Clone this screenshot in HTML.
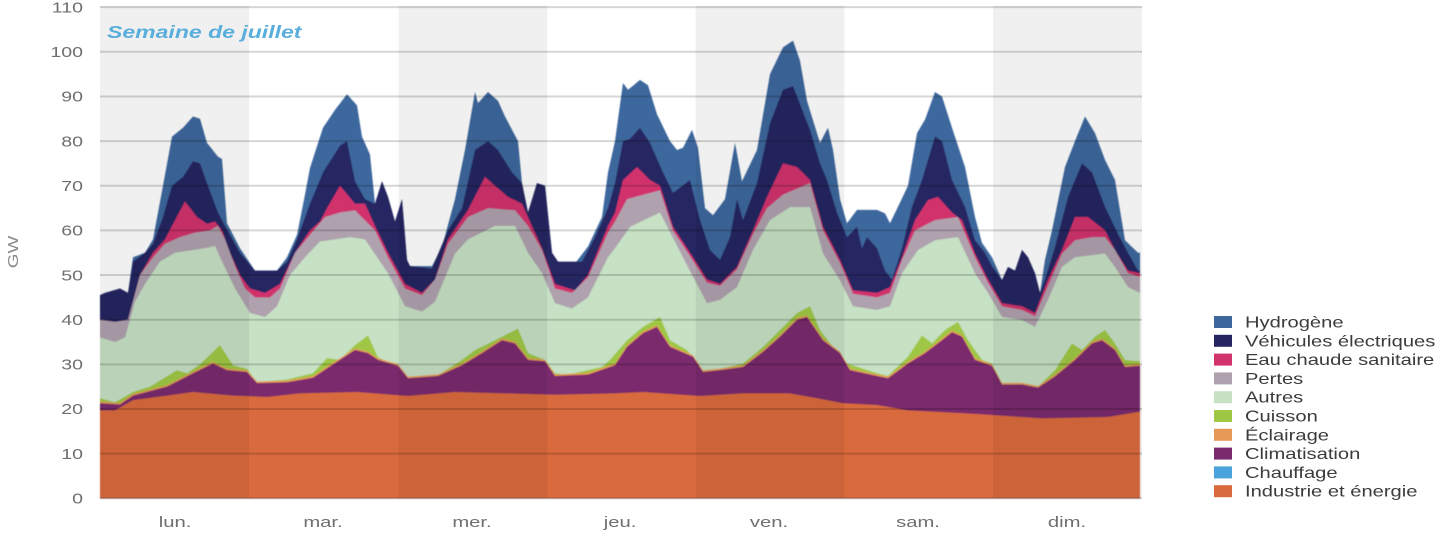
<!DOCTYPE html>
<html><head><meta charset="utf-8"><style>
html,body{margin:0;padding:0;background:#fff;}
body{width:1443px;height:537px;overflow:hidden;}
svg{display:block;}
text{font-family:"Liberation Sans",sans-serif;}
</style></head><body>
<svg width="1443" height="537" viewBox="0 0 1443 537" xmlns="http://www.w3.org/2000/svg">
<defs><filter id="soft" x="-2%" y="-2%" width="104%" height="104%"><feGaussianBlur stdDeviation="0.6"/></filter></defs>
<rect x="0" y="0" width="1443" height="537" fill="#fff"/>
<g filter="url(#soft)">
<g transform="translate(0,498.3) scale(1,-4.465)">
<polygon fill="#3d679d" points="100,0 100,45.5 105,46 120,47 128,46 133,54 145,55 153,58 163,70 172,81 183,83 193,85.5 200,85 207,79.6 218,76.5 222,76 227,61.6 240,56 255,51 277,51 287,54 297,59 305,68 310,74 323,83 335,87 347,90.5 357,88 362,81 370,77 375,66 382,71 388,67.5 395,62 402,67 407,53.4 410,52 432,52 442,56.3 455,67 465,78 475,91 478,88.5 488,91 498,89 505,85.5 518,80 522,70.6 528,64 537,70.6 545,70 552,55 558,53 575,52.6 588,56.4 602,63 608,73 615,80 623,93 628,91.5 640,93.7 648,92.5 657,86 670,80 677,78 683,78.5 692,82.5 698,78.5 705,65 713,63.4 725,67 735,79.6 742,71 757,78 770,95 783,101 793,102.5 800,98 807,89 820,79.6 828,83 833,78 840,67 847,61.6 857,64.6 877,64.6 885,63.8 890,61.6 898,65.3 908,70 917,81.8 925,84.8 935,91 942,90 952,83 965,74.2 975,63 982,57.2 992,54 1002,48.9 1008,51.8 1015,51 1022,55.6 1028,54 1035,50.4 1040,46 1045,53.4 1052,60 1065,74.2 1075,80 1085,85.5 1095,81.8 1105,75.8 1115,71.3 1125,57.8 1138,55 1140,55 1140,0"/>
<polygon fill="#252562" points="100,0 100,45.5 105,46 120,47 128,46 133,53 145,55 153,57 163,63 172,70 183,72 193,75.5 200,75 207,70.6 218,64 225,61 240,55 255,51 277,51 287,53 297,58 310,66 323,73 340,79 347,80 355,71 365,67 375,66 382,71 388,67.5 395,62 402,67 407,53.4 410,52 432,51.5 448,60 462,65 475,78 488,80 498,78 512,73 522,70.6 528,64 537,70.6 545,70 552,55 558,53 582,53 595,58.5 608,65 615,70.6 623,80 630,80.5 640,83 650,79.6 663,73 673,68.4 690,71.3 700,62.3 710,55.6 720,53.4 730,58.5 737,67 743,62.3 757,70.6 770,84 783,91.5 793,92.3 810,82.5 820,75 827,71.3 837,64 847,58.5 857,60.8 862,56 867,58.5 877,56 885,51 892,49 902,56 912,65.3 922,71.3 935,81 942,80 952,71.3 965,65.3 975,57.8 985,55 992,52 1002,48.9 1008,51.8 1015,51 1022,55.6 1028,54 1035,50.4 1040,46 1045,49 1055,56.3 1068,67.5 1082,75 1092,73 1105,65.3 1118,59.2 1128,55 1138,51 1140,51 1140,0"/>
<polygon fill="#d1336c" points="100,0 100,40 115,39.5 128,40 140,50 153,55 165,58 172,61 185,66.5 197,63 207,61.5 215,62 222,60 230,55 240,50 250,47 265,46 280,48 295,55 310,60 320,62 327,65 340,70 355,66 365,66 375,61 388,55 405,48 422,46 435,49 448,58 468,64.6 485,72 495,70 508,67.5 522,66 542,56 555,48 575,46.6 588,50 608,61 615,64 623,71.3 637,74.2 650,71.3 660,70 673,60.8 690,55 707,49 720,48 737,51.8 753,60 767,67.5 783,75 797,74.2 810,71.3 823,60.8 840,53.4 853,46.6 877,46 890,47.3 902,54 915,62.3 928,66.8 938,67.5 952,64 962,62.3 975,54.8 988,49 1002,43.7 1022,43 1035,41.5 1048,49 1062,55.6 1075,63 1088,63 1105,60 1115,55.6 1128,51 1140,50.4 1140,0"/>
<polygon fill="#afa1ae" points="100,0 100,40 115,39.5 128,40 140,50 153,54 165,57 180,58.5 195,59.5 210,60 218,61 225,58 235,52 245,47 255,45 270,45 280,47 295,55 310,59 325,63 340,64 355,64.5 375,60 388,54 405,47 422,45.5 435,49 448,57 468,63 488,65 515,64.5 528,61 542,55.6 555,47 572,46 588,49.5 608,59.5 615,62 627,67 660,69 673,60 690,54.3 707,48.3 720,47.6 737,51.3 753,59.2 767,65 783,68 810,70.6 823,60 840,52.7 853,45.8 877,45 890,46 902,53.4 915,60 935,62.3 958,63 975,54 988,48.3 1002,43 1022,42.2 1035,40.8 1048,47.6 1062,54.8 1075,57.8 1092,58.5 1105,58.5 1115,55.6 1128,50.4 1140,49.6 1140,0"/>
<polygon fill="#c6e1c4" points="100,0 100,36 115,35 125,36 135,44 145,48 160,53 175,55 190,55.5 205,56 215,56.5 222,53 235,47 250,41.5 265,40.6 277,43 290,50 305,54 320,57.5 335,58 350,58.5 365,58 388,50.4 405,43 422,41.8 435,44 455,54.8 468,58 495,61 515,61 528,55 542,50.4 555,43.7 572,42.5 588,45 608,54 615,56 630,60.8 660,64 677,56.6 693,49.6 707,43.7 720,44.4 737,47.3 753,55.6 770,62.3 790,65.2 810,65.2 823,54.8 840,48.8 853,43 877,42.2 890,43 902,50.4 918,55.6 935,57.8 958,58.5 975,50.4 988,46 1002,40.6 1022,39.9 1035,38.4 1048,44.4 1062,51.8 1075,54 1105,54.8 1115,51.8 1128,47.3 1140,46 1140,0"/>
<polygon fill="#9fc744" points="100,0 100,22.4 115,21.5 133,23.8 150,25 177,28.7 187,28 200,30 220,34.3 233,29.8 247,29 257,26 287,26.6 313,28 327,31.4 340,31 355,34.3 368,36.5 378,31.6 398,29.4 408,26.9 438,27.6 462,31 475,33.2 495,35.4 518,38 528,32.5 545,31 555,28 568,27.7 602,29.4 610,31 627,35.4 643,38.4 660,40.6 670,35.4 687,33.2 703,28.7 720,29 743,30.2 763,33.9 780,37.7 797,41.5 810,43 820,37.7 833,33.9 847,30.2 877,28 888,27.4 908,31.7 922,36.5 932,34.7 945,37.7 958,39.5 968,35.4 982,31 992,30.2 1002,25.8 1022,25.5 1038,25 1055,28.7 1072,34.7 1082,33.2 1095,36.2 1105,37.7 1115,34.7 1125,31 1140,30.7 1140,0"/>
<g transform="translate(0,0.35)">
<polygon fill="#e79a55" points="100,0 100,21.3 120,21 133,23 167,25 193,28 213,30.2 227,28.7 247,28.3 257,25.8 287,26 313,27 333,30 355,33.2 368,32.5 378,31 398,29.7 408,26.9 438,27.4 462,29.8 482,32.5 502,35.4 515,34.7 528,31 545,30.7 555,27.4 588,27.7 615,29.8 627,33.9 643,37 657,38.4 670,33.9 693,31.7 703,28.3 720,28.7 743,29.4 763,32.8 780,36.2 797,40 807,40.6 823,35.4 840,32.5 850,28.7 877,27.4 888,26.9 908,30.2 925,32.5 942,35.4 952,37.2 962,36.2 975,31 992,29.7 1002,25.5 1022,25.5 1038,24.8 1055,27.3 1075,31 1092,34.7 1102,35.4 1115,33.2 1125,29.4 1140,29.7 1140,0"/>
</g>
<polygon fill="#7a2b6d" points="100,0 100,21.3 120,21 133,23 167,25 193,28 213,30.2 227,28.7 247,28.3 257,25.8 287,26 313,27 333,30 355,33.2 368,32.5 378,31 398,29.7 408,26.9 438,27.4 462,29.8 482,32.5 502,35.4 515,34.7 528,31 545,30.7 555,27.4 588,27.7 615,29.8 627,33.9 643,37 657,38.4 670,33.9 693,31.7 703,28.3 720,28.7 743,29.4 763,32.8 780,36.2 797,40 807,40.6 823,35.4 840,32.5 850,28.7 877,27.4 888,26.9 908,30.2 925,32.5 942,35.4 952,37.2 962,36.2 975,31 992,29.7 1002,25.5 1022,25.5 1038,24.8 1055,27.3 1075,31 1092,34.7 1102,35.4 1115,33.2 1125,29.4 1140,29.7 1140,0"/>
<polygon fill="#d96a3d" points="100,0 100,19.7 115,19.7 133,22 167,23 193,23.8 233,23 267,22.7 300,23.5 357,23.8 408,22.9 455,23.8 505,23.5 555,23.2 615,23.5 643,23.8 700,22.9 743,23.5 790,23.5 817,22.4 843,21.3 877,20.9 908,19.7 975,18.9 1042,17.9 1108,18.2 1140,19.4 1140,0"/>
</g>
</g>
<!-- day bands -->
<g fill="#000" fill-opacity="0.06">
<rect x="100" y="6" width="149" height="492.3"/>
<rect x="398.6" y="6" width="148.6" height="492.3"/>
<rect x="695.7" y="6" width="148.6" height="492.3"/>
<rect x="993" y="6" width="149" height="492.3"/>
</g>
<!-- gridlines -->
<g stroke="#000" stroke-opacity="0.16" stroke-width="2">
<line x1="100" x2="1142" y1="498.3" y2="498.3"/>
<line x1="100" x2="1142" y1="453.65" y2="453.65"/>
<line x1="100" x2="1142" y1="409" y2="409"/>
<line x1="100" x2="1142" y1="364.35" y2="364.35"/>
<line x1="100" x2="1142" y1="319.7" y2="319.7"/>
<line x1="100" x2="1142" y1="275.05" y2="275.05"/>
<line x1="100" x2="1142" y1="230.4" y2="230.4"/>
<line x1="100" x2="1142" y1="185.75" y2="185.75"/>
<line x1="100" x2="1142" y1="141.1" y2="141.1"/>
<line x1="100" x2="1142" y1="96.45" y2="96.45"/>
<line x1="100" x2="1142" y1="51.8" y2="51.8"/>
<line x1="100" x2="1142" y1="7.15" y2="7.15"/>
</g>
<!-- y tick labels -->
<g fill="#6f6f6f" font-size="14.5" text-anchor="end">
<text transform="translate(83,503.5) scale(1.35,1)">0</text>
<text transform="translate(83,458.9) scale(1.35,1)">10</text>
<text transform="translate(83,414.2) scale(1.35,1)">20</text>
<text transform="translate(83,369.6) scale(1.35,1)">30</text>
<text transform="translate(83,324.9) scale(1.35,1)">40</text>
<text transform="translate(83,280.3) scale(1.35,1)">50</text>
<text transform="translate(83,235.6) scale(1.35,1)">60</text>
<text transform="translate(83,191) scale(1.35,1)">70</text>
<text transform="translate(83,146.3) scale(1.35,1)">80</text>
<text transform="translate(83,101.7) scale(1.35,1)">90</text>
<text transform="translate(83,57) scale(1.35,1)">100</text>
<text transform="translate(83,12.4) scale(1.35,1)">110</text>
</g>
<text transform="translate(18,252) rotate(-90) scale(1.3,1)" fill="#8a8a8a" font-size="14.5" text-anchor="middle">GW</text>
<!-- x labels -->
<g fill="#6f6f6f" font-size="15" text-anchor="middle">
<text transform="translate(175,527) scale(1.35,1)">lun.</text>
<text transform="translate(323,527) scale(1.35,1)">mar.</text>
<text transform="translate(472,527) scale(1.35,1)">mer.</text>
<text transform="translate(620,527) scale(1.35,1)">jeu.</text>
<text transform="translate(769,527) scale(1.35,1)">ven.</text>
<text transform="translate(918,527) scale(1.35,1)">sam.</text>
<text transform="translate(1067,527) scale(1.35,1)">dim.</text>
</g>
<text transform="translate(107,38) scale(1.28,1)" fill="#5aaedc" font-size="18" font-weight="bold" font-style="italic">Semaine de juillet</text>
<!-- legend -->
<g>
<rect x="1214" y="316" width="18" height="12" fill="#3d679d"/>
<rect x="1214" y="334.8" width="18" height="12" fill="#252562"/>
<rect x="1214" y="353.6" width="18" height="12" fill="#d1336c"/>
<rect x="1214" y="372.4" width="18" height="12" fill="#afa1ae"/>
<rect x="1214" y="391.2" width="18" height="12" fill="#c6e1c4"/>
<rect x="1214" y="410" width="18" height="12" fill="#9fc744"/>
<rect x="1214" y="428.8" width="18" height="12" fill="#e79a55"/>
<rect x="1214" y="447.6" width="18" height="12" fill="#7a2b6d"/>
<rect x="1214" y="466.4" width="18" height="12" fill="#4aa3dc"/>
<rect x="1214" y="485.2" width="18" height="12" fill="#d96a3d"/>
</g>
<g fill="#3b3b3b" font-size="15.5">
<text transform="translate(1245,327.5) scale(1.3,1)">Hydrogène</text>
<text transform="translate(1245,346.3) scale(1.3,1)">Véhicules électriques</text>
<text transform="translate(1245,365.1) scale(1.3,1)">Eau chaude sanitaire</text>
<text transform="translate(1245,383.9) scale(1.3,1)">Pertes</text>
<text transform="translate(1245,402.7) scale(1.3,1)">Autres</text>
<text transform="translate(1245,421.5) scale(1.3,1)">Cuisson</text>
<text transform="translate(1245,440.3) scale(1.3,1)">Éclairage</text>
<text transform="translate(1245,459.1) scale(1.3,1)">Climatisation</text>
<text transform="translate(1245,477.9) scale(1.3,1)">Chauffage</text>
<text transform="translate(1245,496.7) scale(1.3,1)">Industrie et énergie</text>
</g>
</svg>
</body></html>
